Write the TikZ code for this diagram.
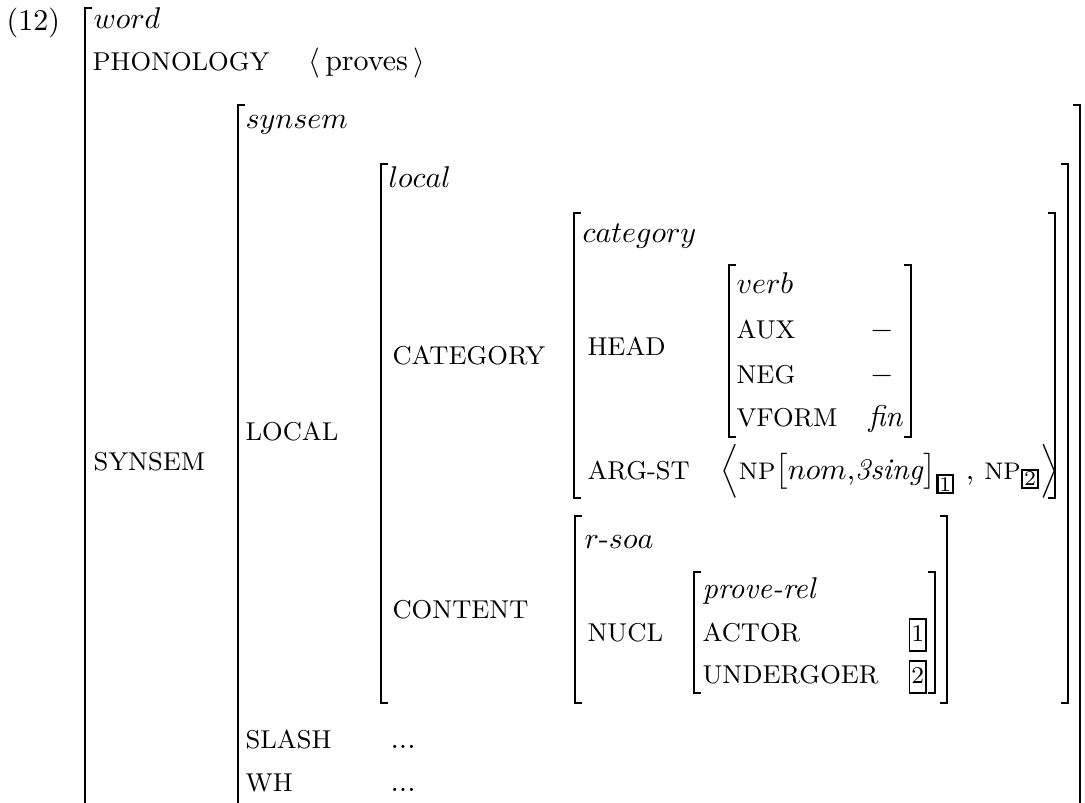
\documentclass[tikz,border=0pt]{standalone}
\usepackage{amsmath}

\tikzset{
  attr/.style={anchor=base west, inner sep=0pt, font=\fontsize{8.6}{10}\selectfont},
  val/.style={anchor=base west, inner sep=0pt},
  brk/.style={line width=0.6pt},
}
% boxed tags
\newcommand{\tagnum}[1]{{\setlength{\fboxsep}{0.3pt}\setlength{\fboxrule}{0.6pt}\fbox{\footnotesize\strut #1}}}
\newcommand{\tagsub}[1]{{\setlength{\fboxsep}{0.2pt}\setlength{\fboxrule}{0.9pt}\fbox{\scriptsize #1}}}
% left x, right x, top, bottom
\newcommand{\avmbrk}[4]{%
  \draw[brk] (#1+7,#3) -- (#1,#3) -- (#1,#4) -- (#1+7,#4);
  \draw[brk] (#2-7,#3) -- (#2,#3) -- (#2,#4) -- (#2-7,#4);}

\begin{document}
\begin{tikzpicture}[x=0.3333pt, y=-0.3333pt]
	\path[use as bounding box] (0,0) rectangle (1085,802);
	\clip (0,0) rectangle (1085,802);

	% brackets
	\avmbrk{85}{1100}{8}{830}
	\avmbrk{238}{1080}{105}{830}
	\avmbrk{381}{1068}{164}{703}
	\avmbrk{574}{1055}{213}{498}
	\avmbrk{729}{911}{265}{437}
	\avmbrk{575}{947}{516}{703}
	\avmbrk{694}{935}{572}{693}

	% word
	\node[val] (num) at (6,30) {(12)};
	\node[val] (wordT) at (93,28) {$word$};
	\node[attr] (phonA) at (92,70) {PHONOLOGY};
	\node[val] (phonV) at (308,70) {$\langle$\,proves\,$\rangle$};
	\node[attr] (synsemA) at (93,470) {SYNSEM};

	% synsem
	\node[val] (synsemT) at (245,128) {$synsem$};
	\node[attr] (localA) at (245,440) {LOCAL};
	\node[attr] (slashA) at (245,748) {SLASH};
	\node[val] (slashV) at (390,748) {...};
	\node[attr] (whA) at (245,791) {WH};
	\node[val] (whV) at (390,791) {...};

	% local
	\node[val] (localT) at (388,187) {$local$};
	\node[attr] (catA) at (392,364) {CATEGORY};
	\node[attr] (contA) at (392,618) {CONTENT};

	% category
	\node[val] (catT) at (582,242) {$category$};
	\node[attr] (headA) at (587,355) {HEAD};
	\node[attr] (argA) at (587,479) {ARG-ST};
	\node[val] (argV) at (720,479) {$\Big\langle${\footnotesize NP}$\big[nom$,\textit{3sing}$\big]_{\tagsub{1}}$ , {\footnotesize NP}$_{\tagsub{2}}\Big\rangle$};

	% head
	\node[val] (verbT) at (736,293) {$verb$};
	\node[attr] (auxA) at (736,338) {AUX};
	\node[val] (auxV) at (870,338) {$-$};
	\node[attr] (negA) at (736,383) {NEG};
	\node[val] (negV) at (870,383) {$-$};
	\node[attr] (vformA) at (736,426) {VFORM};
	\node[val] (vformV) at (868,426) {\textit{fin}};

	% content
	\node[val] (rsoaT) at (584,548) {$r$-$soa$};
	\node[attr] (nuclA) at (587,641) {NUCL};
	\node[val] (proveT) at (702,598) {\textit{prove-rel}};
	\node[attr] (actorA) at (702,641) {ACTOR};
	\node[val] (actorV) at (908,641) {\tagnum{1}};
	\node[attr] (undA) at (702,683) {UNDERGOER};
	\node[val] (undV) at (908,683) {\tagnum{2}};

\end{tikzpicture}
\end{document}
